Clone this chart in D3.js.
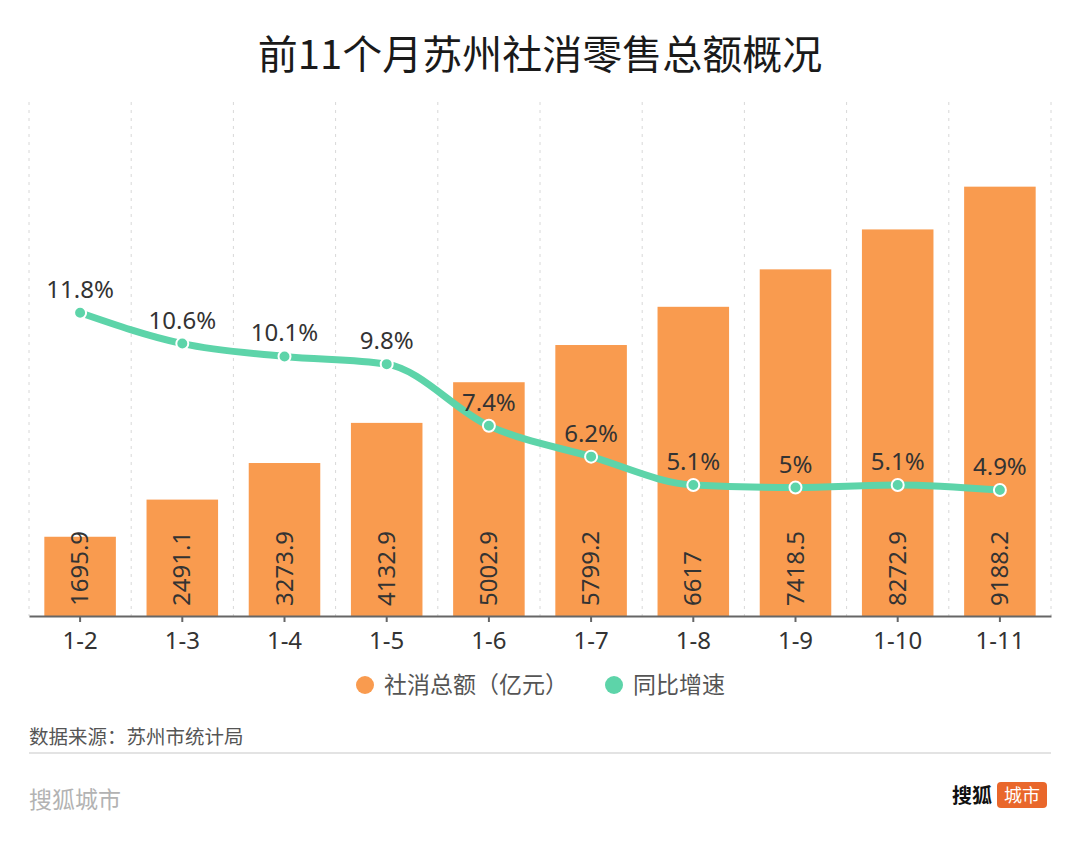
<!DOCTYPE html>
<html><head><meta charset="utf-8">
<script src="https://cdn.jsdelivr.net/npm/d3@7"></script>
<style>
html,body{margin:0;padding:0;background:#fff;}
svg{display:block;font-family:"Noto Sans CJK SC","Noto Sans",sans-serif;}
</style></head>
<body><svg id="c" width="1080" height="847"></svg>
<script>
const categories = ["1-2","1-3","1-4","1-5","1-6","1-7","1-8","1-9","1-10","1-11"];
const totals = [1695.9, 2491.1, 3273.9, 4132.9, 5002.9, 5799.2, 6617, 7418.5, 8272.9, 9188.2];
const growth = [11.8, 10.6, 10.1, 9.8, 7.4, 6.2, 5.1, 5.0, 5.1, 4.9];
const growthLabels = ["11.8%","10.6%","10.1%","9.8%","7.4%","6.2%","5.1%","5%","5.1%","4.9%"];
const seriesNames = ["社消总额（亿元）","同比增速"];
const title = "前11个月苏州社消零售总额概况";
const source = "数据来源：苏州市统计局";

const pL = 29, pR = 1051, pT = 102, pB = 616;
const orange = "#F99B4F", green = "#5DD4A9";
const numFont = '"Noto Sans","Noto Sans CJK SC",sans-serif';
const svg = d3.select("#c");

svg.append("text").attr("x", 540).attr("y", 69).attr("text-anchor","middle")
  .attr("font-size", 40).attr("font-weight", 400).attr("fill", "#1a1a1a").text(title);

const x = d3.scaleBand().domain(categories).range([pL, pR]).paddingInner(0.3).paddingOuter(0.15);
const xb = d3.scaleBand().domain(categories).range([pL, pR]);
const y = d3.scaleLinear().domain([0, 11000]).range([pB, pT]);
const y2 = d3.scaleLinear().domain([0, 20]).range([pB, pT]);

// dashed vertical grid at band boundaries
const bounds = categories.map(c => xb(c)).concat([pR]);
svg.append("g").selectAll("line").data(bounds).join("line")
  .attr("x1", d => d).attr("x2", d => d).attr("y1", pT).attr("y2", pB)
  .attr("stroke", "#d8d8d8").attr("stroke-width", 1).attr("stroke-dasharray", "3,5");

// bars
svg.append("g").selectAll("rect").data(totals).join("rect")
  .attr("x", (d,i) => x(categories[i])).attr("width", x.bandwidth())
  .attr("y", d => y(d)).attr("height", d => pB - y(d)).attr("fill", orange);

// bar labels (rotated)
svg.append("g").selectAll("text").data(totals).join("text")
  .attr("transform", (d,i) => `translate(${x(categories[i]) + x.bandwidth()/2 + 8},${pB - 10}) rotate(-90)`)
  .attr("font-family", numFont).attr("font-size", 24).attr("fill", "#333").attr("text-anchor","start")
  .text(d => String(d));

// axis
const axis = d3.axisBottom(xb).tickSize(6).tickSizeOuter(0).tickPadding(10);
const ag = svg.append("g").attr("transform", `translate(0,${pB})`).call(axis);
ag.select(".domain").attr("stroke", "#666").attr("stroke-width", 2);
ag.selectAll(".tick line").attr("stroke", "#666").attr("stroke-width", 2);
ag.selectAll(".tick text").attr("font-size", 24).attr("fill", "#333")
  .attr("font-family", numFont);

// line
const cx = i => xb(categories[i]) + xb.bandwidth()/2;
const line = d3.line().x((d,i) => cx(i)).y(d => y2(d)).curve(d3.curveMonotoneX);
svg.append("path").datum(growth).attr("d", line).attr("fill","none")
  .attr("stroke", green).attr("stroke-width", 7).attr("stroke-linejoin","round");
svg.append("g").selectAll("circle").data(growth).join("circle")
  .attr("cx", (d,i) => cx(i)).attr("cy", d => y2(d)).attr("r", 6)
  .attr("fill", green).attr("stroke", "#fff").attr("stroke-width", 2);
svg.append("g").selectAll("text").data(growth).join("text")
  .attr("x", (d,i) => cx(i)).attr("y", d => y2(d) - 15).attr("text-anchor","middle")
  .attr("font-family", numFont).attr("font-size", 24).attr("fill", "#333").text((d,i) => growthLabels[i]);

// legend
const lg = svg.append("g");
const legendItems = [{name: seriesNames[0], color: orange, x: 365}, {name: seriesNames[1], color: green, x: 614}];
lg.selectAll("circle").data(legendItems).join("circle")
  .attr("cx", d => d.x).attr("cy", 685).attr("r", 9).attr("fill", d => d.color);
lg.selectAll("text").data(legendItems).join("text")
  .attr("x", d => d.x + 19).attr("y", 693).attr("font-size", 23).attr("fill", "#555").text(d => d.name);

// footer
svg.append("text").attr("x", 29).attr("y", 744).attr("font-size", 19.5).attr("fill", "#555").text(source);
svg.append("line").attr("x1", 29).attr("x2", 1051).attr("y1", 753).attr("y2", 753)
  .attr("stroke", "#e3e3e3").attr("stroke-width", 2);
svg.append("text").attr("x", 29).attr("y", 808).attr("font-size", 23).attr("fill", "#b3b3b3").text("搜狐城市");
svg.append("text").attr("x", 952).attr("y", 803).attr("font-size", 20).attr("font-weight", 700).attr("fill", "#111").text("搜狐");
svg.append("rect").attr("x", 997).attr("y", 782).attr("width", 50).attr("height", 26).attr("rx", 4).attr("fill", "#E9672B");
svg.append("text").attr("x", 1022).attr("y", 802).attr("text-anchor","middle").attr("font-size", 18).attr("fill", "#fff").text("城市");
</script></body></html>
